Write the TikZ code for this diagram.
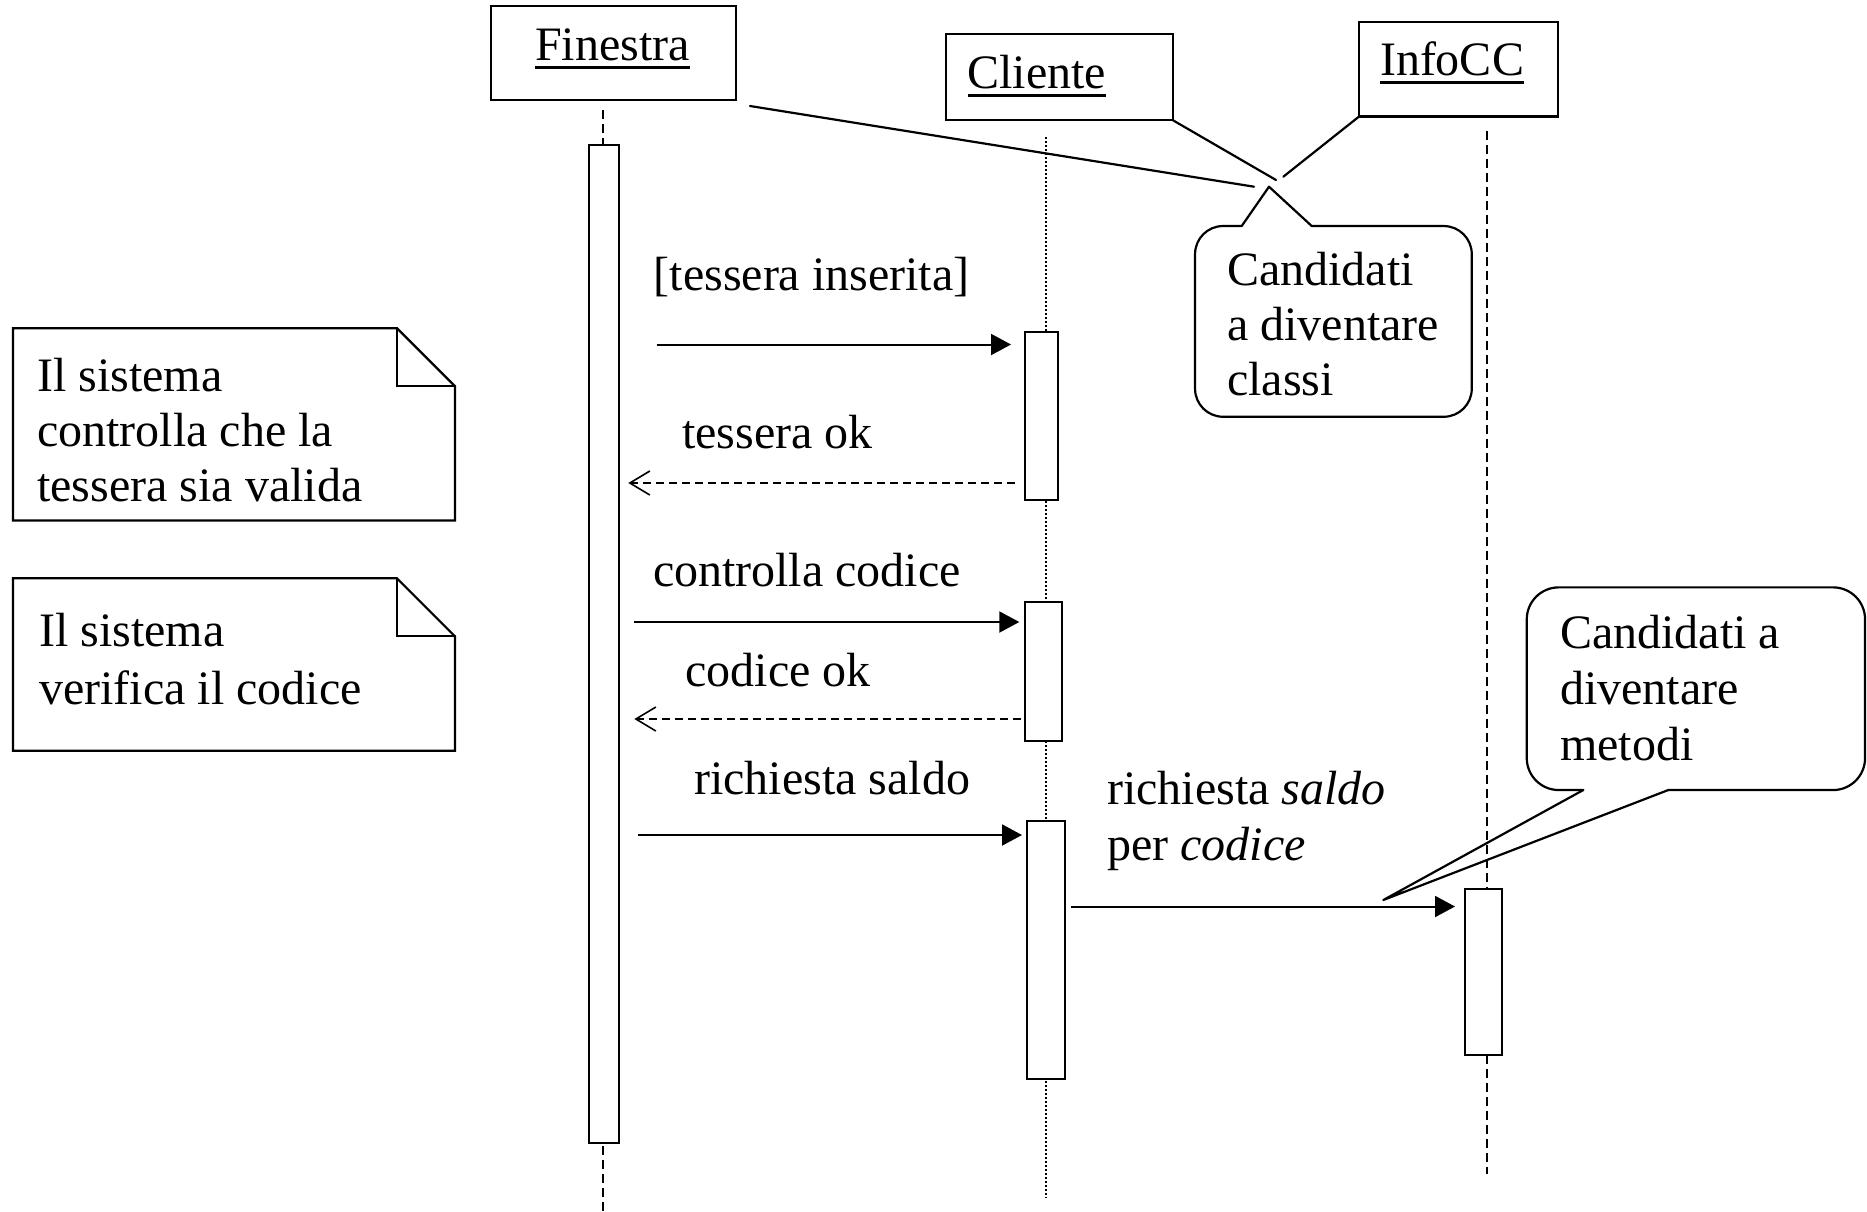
\documentclass[tikz,border=0pt]{standalone}
\usepackage{fontspec}
\setmainfont{Liberation Serif}
\usetikzlibrary{arrows.meta}

\tikzset{
  txt/.style={inner sep=0pt, outer sep=0pt, font=\fontsize{48}{55}\selectfont, anchor=base west, align=left},
  objbox/.style={draw, line width=2.2pt, inner sep=0pt, outer sep=0pt},
  actbox/.style={draw, fill=white, line width=2pt, inner sep=0pt, outer sep=0pt},
  frame/.style={inner sep=0pt, outer sep=0pt},
  lifedash/.style={line width=1.6pt, dash pattern=on 9pt off 5pt},
  lifedot/.style={line width=1.3pt, dash pattern=on 1.5pt off 2.5pt},
  callmsg/.style={line width=2pt, -{Triangle[length=20pt,width=21pt]}},
  retmsg/.style={line width=1.8pt, dash pattern=on 8pt off 5pt, -{Straight Barb[length=20pt,width=24pt,line width=1.6pt]}},
  outline/.style={line width=2.2pt, line cap=round, line join=round},
  uline/.style={line width=3pt},
}

\begin{document}
\begin{tikzpicture}[x=1pt, y=-1pt]
\useasboundingbox (0,0) rectangle (1867,1211);

% lifelines (drawn first, activation bars cover them)
\coordinate (finTop) at (603,110);
\coordinate (finEnd) at (603,1211);
\coordinate (cliTop) at (1046,137);
\coordinate (cliEnd) at (1046,1198);
\coordinate (infoTop) at (1487,131);
\coordinate (infoEnd) at (1487,1174);
\draw[lifedash] (finTop) -- (finEnd);
\draw[lifedot] (cliTop) -- (cliEnd);
\draw[lifedash] (infoTop) -- (infoEnd);

% objects
\node[objbox, minimum width=245pt, minimum height=94pt] (finBox) at (613.4,53) {};
\node[objbox, minimum width=227pt, minimum height=86pt] (cliBox) at (1059.5,77.3) {};
\node[objbox, minimum width=199pt, minimum height=94.5pt] (infoBox) at (1458.5,69.3) {};

\node[txt] (finName) at (535,60) {Finestra};
\node[txt] (cliName) at (967.5,88.3) {Cliente};
\node[txt] (infoName) at (1380,75.5) {InfoCC};
\draw[uline] ([yshift=-7pt]finName.base west) -- ([yshift=-7pt]finName.base east);
\draw[uline] ([yshift=-7pt]cliName.base west) -- ([yshift=-7pt]cliName.base east);
\draw[uline] ([yshift=-7pt]infoName.base west) -- ([yshift=-7pt]infoName.base east);

% activation bars
\node[actbox, minimum width=30pt, minimum height=998pt] (finAct) at (604.3,644.2) {};
\node[actbox, minimum width=32.5pt, minimum height=168pt] (cliAct1) at (1041.3,416.3) {};
\node[actbox, minimum width=36.5pt, minimum height=138.3pt] (cliAct2) at (1043.3,671.5) {};
\node[actbox, minimum width=38pt, minimum height=258pt] (cliAct3) at (1046,949.5) {};
\node[actbox, minimum width=36.5pt, minimum height=166.5pt] (infoAct) at (1483.3,971.8) {};

% messages
\coordinate (m1a) at (656.7,344.5);  \coordinate (m1b) at (1011,344.5);
\coordinate (r1a) at (1015,483);     \coordinate (r1b) at (628.3,483);
\coordinate (m2a) at (634,622);      \coordinate (m2b) at (1019.3,622);
\coordinate (r2a) at (1021,719);     \coordinate (r2b) at (634.3,719);
\coordinate (m3a) at (638.2,835);    \coordinate (m3b) at (1022,835);
\coordinate (m4a) at (1071,906.5);   \coordinate (m4b) at (1455,906.5);
\draw[callmsg] (m1a) -- (m1b);
\draw[retmsg]  (r1a) -- (r1b);
\draw[callmsg] (m2a) -- (m2b);
\draw[retmsg]  (r2a) -- (r2b);
\draw[callmsg] (m3a) -- (m3b);
\draw[callmsg] (m4a) -- (m4b);

% single-line labels sit on their baseline; multi-line ones on the last line's baseline
\node[txt] (lab1) at (653.7,290.5) {[tessera inserita]};
\node[txt] (lab2) at (682,448.5) {tessera ok};
\node[txt] (lab3) at (653,586.5) {controlla codice};
\node[txt] (lab4) at (685.5,686.5) {codice ok};
\node[txt] (lab5) at (694.2,794) {richiesta saldo};
\node[txt, font=\fontsize{48}{56}\selectfont] (lab6) at (1107.3,860.5) {richiesta \textit{saldo}\\per \textit{codice}};

% notes with folded corner
\node[frame, minimum width=442pt, minimum height=192.2pt] (note1) at (234,424.4) {};
\draw[outline, line join=miter] (note1.north west) -- ([xshift=-58pt]note1.north east) -- ([yshift=-58pt]note1.north east) -- (note1.south east) -- (note1.south west) -- cycle;
\draw[outline, line join=miter] ([xshift=-58pt]note1.north east) |- ([yshift=-58pt]note1.north east);
\node[txt] (note1txt) at (37.3,501) {Il sistema\\controlla che la\\tessera sia valida};

\node[frame, minimum width=442pt, minimum height=172.4pt] (note2) at (234,664.5) {};
\draw[outline, line join=miter] (note2.north west) -- ([xshift=-58pt]note2.north east) -- ([yshift=-58pt]note2.north east) -- (note2.south east) -- (note2.south west) -- cycle;
\draw[outline, line join=miter] ([xshift=-58pt]note2.north east) |- ([yshift=-58pt]note2.north east);
\node[txt, font=\fontsize{48}{58}\selectfont] (note2txt) at (39.3,704.5) {Il sistema\\verifica il codice};

% callout: candidates for classes
\node[frame, minimum width=276.7pt, minimum height=190.7pt] (call1) at (1333.4,321.4) {};
\coordinate (call1L) at (1241.7,226);
\coordinate (call1R) at (1311.7,226);
\coordinate (call1tip) at (1269,186.7);
\draw[outline, rounded corners=28pt] (call1R) -- (call1.north east) -- (call1.south east) -- (call1.south west) -- (call1.north west) -- (call1L);
\draw[outline] (call1L) -- (call1tip) -- (call1R);
\node[txt] (call1txt) at (1227.3,395) {Candidati\\a diventare\\classi};

% pointers from the three objects
\coordinate (finPtrA) at (750,106);
\coordinate (finPtrB) at (1254,186.7);
\coordinate (cliPtrB) at (1276,180);
\coordinate (infoPtrB) at (1283.3,176.7);
\draw[outline] (finPtrA) -- (finPtrB);
\draw[outline] (cliBox.south east) -- (cliPtrB);
\draw[outline] (infoBox.south west) -- (infoPtrB);

% callout: candidates for methods
\node[frame, minimum width=338.3pt, minimum height=202.7pt] (call2) at (1695.9,688.7) {};
\coordinate (call2L) at (1583.3,790);
\coordinate (call2R) at (1668.3,790);
\coordinate (call2tip) at (1383.3,900);
\draw[outline, rounded corners=32pt] (call2L) -- (call2.south west) -- (call2.north west) -- (call2.north east) -- (call2.south east) -- (call2R);
\draw[outline] (call2L) -- (call2tip) -- (call2R);
\node[txt, font=\fontsize{48}{56}\selectfont] (call2txt) at (1560,760.5) {Candidati a\\diventare\\metodi};

\end{tikzpicture}
\end{document}
